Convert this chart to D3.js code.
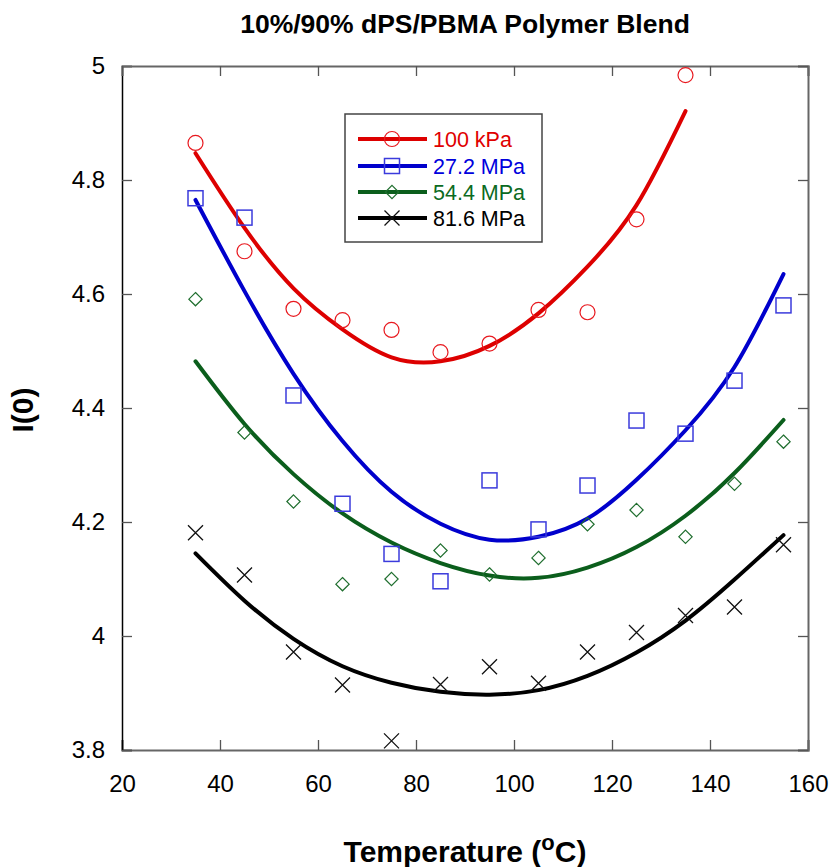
<!DOCTYPE html>
<html>
<head>
<meta charset="utf-8">
<script src="https://cdn.jsdelivr.net/npm/d3@7"></script>
<style>
  html, body { margin: 0; padding: 0; background: #fff; }
  svg { display: block; }
  text { font-family: Arial, "Liberation Sans", sans-serif; }
</style>
</head>
<body>
<svg id="chart" width="831" height="867"></svg>
<script>
// ---- Data ----
const title = "10%/90% dPS/PBMA Polymer Blend";
const xTicks = [20, 40, 60, 80, 100, 120, 140, 160];
const yTicks = [3.8, 4.0, 4.2, 4.4, 4.6, 4.8, 5.0];

const tempShort = [35, 45, 55, 65, 75, 85, 95, 105, 115, 125, 135];
const tempLong  = [35, 45, 55, 65, 75, 85, 95, 105, 115, 125, 135, 145, 155];

// measured points
const pts100kPa = [4.865, 4.675, 4.574, 4.554, 4.537, 4.498, 4.513, 4.572, 4.568, 4.731, 4.984];
const pts27MPa  = [4.768, 4.734, 4.422, 4.232, 4.144, 4.096, 4.273, 4.187, 4.264, 4.378, 4.355, 4.448, 4.580];
const pts54MPa  = [4.591, 4.357, 4.236, 4.091, 4.100, 4.150, 4.108, 4.137, 4.196, 4.221, 4.174, 4.267, 4.341];
const pts81MPa  = [4.181, 4.107, 3.972, 3.914, 3.816, 3.915, 3.946, 3.917, 3.972, 4.006, 4.036, 4.051, 4.160];

// fitted curves
const fit100kPa = [4.847, 4.716, 4.610, 4.538, 4.489, 4.482, 4.509, 4.566, 4.648, 4.756, 4.921];
const fit27MPa  = [4.765, 4.605, 4.460, 4.342, 4.253, 4.197, 4.169, 4.174, 4.206, 4.274, 4.361, 4.472, 4.635];
const fit54MPa  = [4.482, 4.372, 4.284, 4.215, 4.164, 4.128, 4.106, 4.102, 4.120, 4.156, 4.211, 4.286, 4.379];
const fit81MPa  = [4.145, 4.062, 3.995, 3.947, 3.918, 3.902, 3.897, 3.905, 3.930, 3.971, 4.027, 4.099, 4.177];

const seriesNames = ["100 kPa", "27.2 MPa", "54.4 MPa", "81.6 MPa"];

// ---- Layout / style ----
const series = [
  { name: seriesNames[0], t: tempShort, pts: pts100kPa, fit: fit100kPa, line: "#dd0000", mark: "#e8191f", text: "#e00000", shape: "circle" },
  { name: seriesNames[1], t: tempLong,  pts: pts27MPa,  fit: fit27MPa,  line: "#0000cc", mark: "#3b3bdc", text: "#0000dd", shape: "square" },
  { name: seriesNames[2], t: tempLong,  pts: pts54MPa,  fit: fit54MPa,  line: "#0b5e1c", mark: "#1f6e2e", text: "#0b6a22", shape: "diamond" },
  { name: seriesNames[3], t: tempLong,  pts: pts81MPa,  fit: fit81MPa,  line: "#000000", mark: "#111111", text: "#000000", shape: "cross" }
];

const svg = d3.select("#chart");
const L = 122, R = 808, T = 66, B = 750;

const x = d3.scaleLinear().domain([20, 160]).range([L, R]);
const y = d3.scaleLinear().domain([3.8, 5.0]).range([B, T]);

// title
svg.append("text").attr("x", 465).attr("y", 33).attr("text-anchor", "middle")
  .attr("font-size", 26.5).attr("font-weight", "bold").text(title);

// axes (ticks inward)
const fmtY = d => (d === 4 || d === 5) ? String(d) : d3.format(".1f")(d);
const gB = svg.append("g").attr("transform", `translate(0,${B})`)
  .call(d3.axisBottom(x).tickValues(xTicks).tickSize(-10).tickPadding(25).tickFormat(d3.format("d")));
const gL = svg.append("g").attr("transform", `translate(${L},0)`)
  .call(d3.axisLeft(y).tickValues(yTicks).tickSize(-10).tickPadding(17).tickFormat(fmtY));
const gT = svg.append("g").attr("transform", `translate(0,${T})`)
  .call(d3.axisTop(x).tickValues(xTicks).tickSize(-10).tickFormat(""));
const gR = svg.append("g").attr("transform", `translate(${R},0)`)
  .call(d3.axisRight(y).tickValues(yTicks).tickSize(-10).tickFormat(""));

[gB, gL, gT, gR].forEach(g => {
  g.select(".domain").attr("stroke", "#666").attr("stroke-width", 2);
  g.selectAll(".tick line").attr("stroke", "#555").attr("stroke-width", 1.3);
  g.selectAll(".tick text").attr("fill", "#000").attr("font-size", 24)
    .attr("font-family", "Arial, 'Liberation Sans', sans-serif");
});
gL.select(".domain").attr("stroke", "#000").attr("stroke-width", 1.5);

// axis titles
const xt = svg.append("text").attr("x", 465).attr("y", 862).attr("text-anchor", "middle")
  .attr("font-size", 30).attr("font-weight", "bold");
xt.append("tspan").text("Temperature (");
xt.append("tspan").attr("font-size", 22).attr("dy", -12).text("o");
xt.append("tspan").attr("dy", 12).text("C)");

svg.append("text").attr("transform", "translate(33,410) rotate(-90)").attr("text-anchor", "middle")
  .attr("font-size", 30).attr("font-weight", "bold").text("I(0)");

// markers
function drawMarker(g, shape, cx, cy, color, s) {
  if (shape === "circle") {
    g.append("circle").attr("cx", cx).attr("cy", cy).attr("r", s)
      .attr("fill", "none").attr("stroke", color).attr("stroke-width", 1.2);
  } else if (shape === "square") {
    g.append("rect").attr("x", cx - s).attr("y", cy - s).attr("width", 2 * s).attr("height", 2 * s)
      .attr("fill", "none").attr("stroke", color).attr("stroke-width", 1.5);
  } else if (shape === "diamond") {
    const d = s * 0.95;
    g.append("path").attr("d", `M${cx},${cy - d}L${cx + d},${cy}L${cx},${cy + d}L${cx - d},${cy}Z`)
      .attr("fill", "none").attr("stroke", color).attr("stroke-width", 1.2);
  } else {
    g.append("path").attr("d", `M${cx - s},${cy - s}L${cx + s},${cy + s}M${cx - s},${cy + s}L${cx + s},${cy - s}`)
      .attr("fill", "none").attr("stroke", color).attr("stroke-width", 1.3);
  }
}

const lineGen = d3.line().x(d => x(d[0])).y(d => y(d[1])).curve(d3.curveNatural);

const plot = svg.append("g");
series.forEach(s => {
  plot.append("path").datum(s.t.map((t, i) => [t, s.fit[i]]))
    .attr("d", lineGen).attr("fill", "none").attr("stroke", s.line)
    .attr("stroke-width", 4).attr("stroke-linecap", "round");
});
series.forEach(s => {
  const g = plot.append("g");
  s.t.forEach((t, i) => drawMarker(g, s.shape, x(t), y(s.pts[i]), s.mark, s.shape === "diamond" ? 7 : 7.5));
});

// legend
const lg = svg.append("g");
lg.append("rect").attr("x", 345).attr("y", 114).attr("width", 197).attr("height", 128)
  .attr("fill", "#fff").attr("stroke", "#444").attr("stroke-width", 1.5);
const rows = [139, 166, 192, 218];
series.forEach((s, i) => {
  const yy = rows[i];
  lg.append("line").attr("x1", 358).attr("x2", 427).attr("y1", yy).attr("y2", yy)
    .attr("stroke", s.line).attr("stroke-width", 4);
  drawMarker(lg, s.shape, 392, yy, s.mark, s.shape === "diamond" ? 7 : 7.5);
  lg.append("text").attr("x", 433).attr("y", yy + 8).attr("font-size", 21.5)
    .attr("fill", s.text).text(s.name);
});
</script>
</body>
</html>
